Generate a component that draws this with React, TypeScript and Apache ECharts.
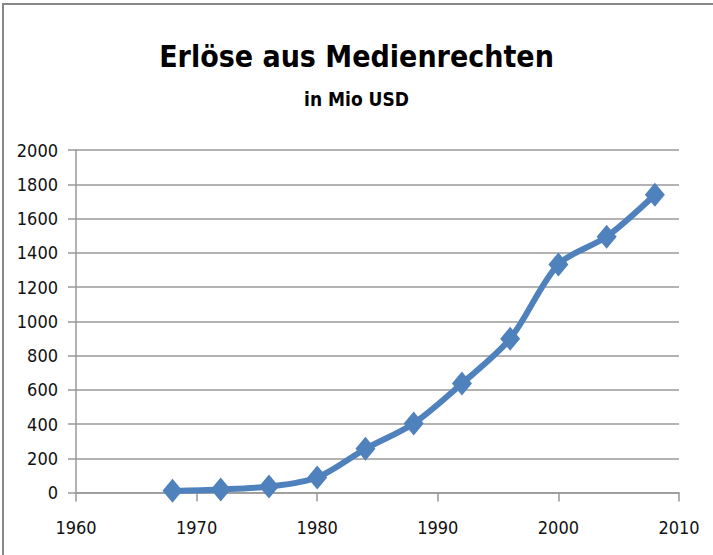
import React, { useEffect, useRef } from "react";
import * as echarts from "echarts";

const years = [1968, 1972, 1976, 1980, 1984, 1988, 1992, 1996, 2000, 2004, 2008];
const revenues = [10, 18, 35, 88, 255, 403, 636, 898, 1332, 1494, 1739];
const titleText = "Erlöse aus Medienrechten";
const subtitleText = "in Mio USD";

const FONT = '"Liberation Sans Narrow", "DejaVu Sans Condensed", "Open Sans", sans-serif';

export default function App() {
  const ref = useRef<HTMLDivElement>(null);
  useEffect(() => {
    if (!ref.current) return;
    const chart = echarts.init(ref.current, undefined, { renderer: "svg" });
    chart.setOption({
      animation: false,
      backgroundColor: "#ffffff",
      title: {
        text: titleText,
        subtext: subtitleText,
        left: "center",
        top: 36,
        itemGap: 18,
        textStyle: { fontFamily: FONT, fontWeight: "bold", fontSize: 30, color: "#000" },
        subtextStyle: { fontFamily: FONT, fontWeight: "bold", fontSize: 19, color: "#000" },
      },
      graphic: [
        {
          type: "rect",
          shape: { x: 3, y: 4, width: 760, height: 600 },
          style: { fill: "none", stroke: "#888", lineWidth: 2 },
          silent: true,
        },
      ],
      grid: { left: 76, right: 34, top: 150, bottom: 62.5 },
      xAxis: {
        type: "value",
        min: 1960,
        max: 2010,
        interval: 10,
        axisLine: { show: true, lineStyle: { color: "#999", width: 1.5 } },
        axisTick: { show: true, length: 9, lineStyle: { color: "#999", width: 1.5 } },
        splitLine: { show: false },
        axisLabel: {
          fontFamily: FONT,
          fontSize: 18,
          color: "#111",
          margin: 26,
          formatter: (v: number) => String(v),
        },
      },
      yAxis: {
        type: "value",
        min: 0,
        max: 2000,
        interval: 200,
        axisLine: { show: true, lineStyle: { color: "#999", width: 1.5 } },
        axisTick: { show: true, length: 8, lineStyle: { color: "#999", width: 1.5 } },
        splitLine: { show: true, lineStyle: { color: "#9a9a9a", width: 1.5 } },
        axisLabel: {
          fontFamily: FONT,
          fontSize: 18,
          color: "#111",
          margin: 18,
          formatter: (v: number) => String(v),
        },
      },
      series: [
        {
          type: "line",
          data: years.map((y, i) => [y, revenues[i]]),
          smooth: 0.3,
          symbol: "diamond",
          symbolSize: [20, 24],
          lineStyle: { color: "#4f81bd", width: 6 },
          itemStyle: { color: "#4f81bd" },
        },
      ],
    });
    return () => chart.dispose();
  }, []);
  return <div ref={ref} style={{ width: 713, height: 555, position: "absolute", left: 0, top: 0 }} />;
}
